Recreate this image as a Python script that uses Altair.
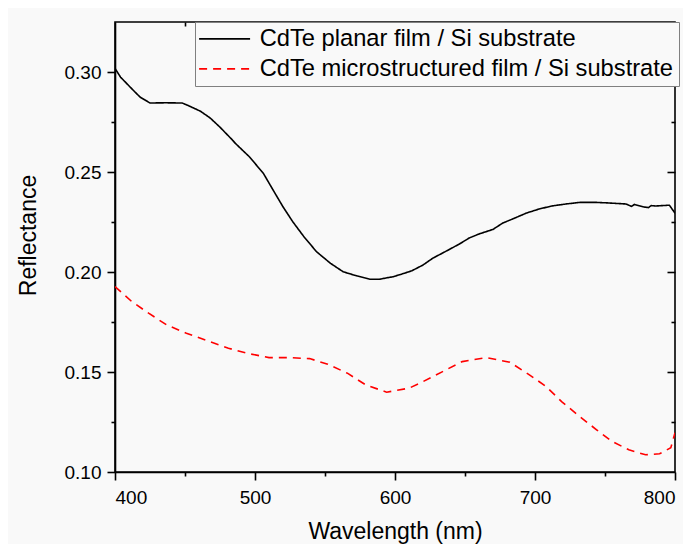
import altair as alt
import pandas as pd

# CdTe planar film / Si substrate (black solid)
planar_wl = [400, 404, 413, 418, 425, 436, 448, 453, 461, 468, 475, 484, 486, 496, 506, 513,
             520, 527, 535, 544, 554, 563, 573, 582, 589, 599, 605, 612, 620, 627, 637, 646,
             653, 660, 670, 677, 684, 694, 703, 712, 722, 732, 744, 753, 765, 769, 771, 777,
             781, 783, 786, 796, 800]
planar_r = [0.3018, 0.2974, 0.2909, 0.2874, 0.2845, 0.2846, 0.2845, 0.2830, 0.2804, 0.2770,
            0.2724, 0.2659, 0.2643, 0.2576, 0.2493, 0.2409, 0.2326, 0.2251, 0.2176, 0.2101,
            0.2043, 0.2001, 0.1980, 0.1964, 0.1964, 0.1977, 0.1990, 0.2006, 0.2035, 0.2069,
            0.2106, 0.2140, 0.2170, 0.2190, 0.2213, 0.2245, 0.2265, 0.2295, 0.2315, 0.2330,
            0.2340, 0.2348, 0.2348, 0.2345, 0.2340, 0.2328, 0.2338, 0.2326, 0.2322, 0.2332,
            0.2330, 0.2334, 0.2294]

# CdTe microstructured film / Si substrate (red dashed)
micro_wl = [400, 412, 424, 437, 451, 466, 481, 494, 510, 524, 539, 552, 566, 579, 594, 610,
            620, 634, 648, 665, 682, 696, 708, 719, 732, 744, 755, 767, 779, 789, 797, 800]
micro_r = [0.1927, 0.1852, 0.1794, 0.1735, 0.1694, 0.1656, 0.1619, 0.1594, 0.1572, 0.1572,
           0.1567, 0.1539, 0.1494, 0.1436, 0.1399, 0.1419, 0.1452, 0.1502, 0.1552, 0.1572,
           0.1549, 0.1486, 0.1427, 0.1352, 0.1277, 0.1211, 0.1153, 0.1111, 0.1086, 0.1091,
           0.1121, 0.1196]

series_names = ["CdTe planar film / Si substrate", "CdTe microstructured film / Si substrate"]
series_colors = ["#000000", "#ff0000"]

x_major = [400, 500, 600, 700, 800]
x_all = [400, 450, 500, 550, 600, 650, 700, 750, 800]
x_minor = [450, 550, 650, 750]
y_all = [0.10, 0.125, 0.15, 0.175, 0.20, 0.225, 0.25, 0.275, 0.30]
y_major_in = [0.15, 0.20, 0.25, 0.30]
y_minor_in = [0.125, 0.175, 0.225, 0.275]

df = pd.concat([
    pd.DataFrame({"wl": planar_wl, "r": planar_r, "series": series_names[0]}),
    pd.DataFrame({"wl": micro_wl, "r": micro_r, "series": series_names[1]}),
])

FONT = "Arial, Liberation Sans"
xs = alt.Scale(domain=[400, 800], nice=False, zero=False)
ys = alt.Scale(domain=[0.10, 0.325], nice=False, zero=False)

x_test = "datum.value % 100 === 0"
y_test = "abs(datum.value*20 - round(datum.value*20)) < 0.001"

legend_kw = dict(orient="none", legendX=80, legendY=0, title=None,
                 labelFontSize=23.7, labelFont=FONT, labelColor="#000000",
                 symbolType="M-2.5,0H7.5", symbolSize=104, symbolStrokeWidth=1.6,
                 labelOffset=36, padding=5, rowPadding=5,
                 strokeColor="#808080", fillColor="#f9f9f9", labelLimit=0)

main = alt.Chart(df).mark_line(strokeWidth=1.6, clip=True).encode(
    x=alt.X("wl:Q", scale=xs, axis=alt.Axis(
        orient="bottom", values=x_all, title="Wavelength (nm)",
        labelExpr=f"{x_test} ? datum.label : ''",
        tickSize={"condition": {"test": x_test, "value": 8}, "value": 4},
        labelPadding=8, titlePadding=13)),
    y=alt.Y("r:Q", scale=ys, axis=alt.Axis(
        orient="left", values=y_all, title="Reflectance",
        labelExpr=f"{y_test} ? format(datum.value, '.2f') : ''",
        tickSize={"condition": {"test": y_test, "value": 8}, "value": 4},
        labelPadding=6, titlePadding=24, titleY=213)),
    color=alt.Color("series:N", scale=alt.Scale(domain=series_names, range=series_colors),
                    legend=alt.Legend(**legend_kw)),
    strokeDash=alt.StrokeDash("series:N", scale=alt.Scale(domain=series_names,
                                                           range=[[1, 0], [8, 6]]),
                              legend=alt.Legend(**legend_kw)),
)

inner_major = alt.Chart(df).mark_line(strokeOpacity=0).encode(
    x=alt.X("wl:Q", scale=xs, axis=alt.Axis(orient="top", values=x_major[1:-1], labels=False,
                                            domain=False, offset=-8, tickSize=8, title=None)),
    y=alt.Y("r:Q", scale=ys, axis=alt.Axis(orient="right", values=y_major_in, labels=False,
                                           domain=False, offset=-8, tickSize=8, title=None)),
    detail="series:N",
)

inner_minor = alt.Chart(df).mark_line(strokeOpacity=0).encode(
    x=alt.X("wl:Q", scale=xs, axis=alt.Axis(orient="top", values=x_minor, labels=False,
                                            domain=False, offset=-4, tickSize=4, title=None)),
    y=alt.Y("r:Q", scale=ys, axis=alt.Axis(orient="right", values=y_minor_in, labels=False,
                                           domain=False, offset=-4, tickSize=4, title=None)),
    detail="series:N",
)

chart = alt.layer(main, inner_major, inner_minor).resolve_axis(
    x="independent", y="independent"
).properties(
    width=560, height=450,
    autosize=alt.AutoSizeParams(type="none"),
    padding={"left": 107, "top": 14, "right": 8, "bottom": 72},
    background="#f9f9f9",
).configure_view(
    stroke="#000000", strokeWidth=1.6
).configure_axis(
    grid=False, domainColor="#000000", domainWidth=1.6, tickColor="#000000", tickWidth=1.6,
    labelFont=FONT, labelFontSize=19, labelColor="#000000",
    titleFont=FONT, titleFontSize=23, titleFontWeight="normal", titleColor="#000000",
)

chart.save("out.html", embed_options={"renderer": "svg", "actions": False})
